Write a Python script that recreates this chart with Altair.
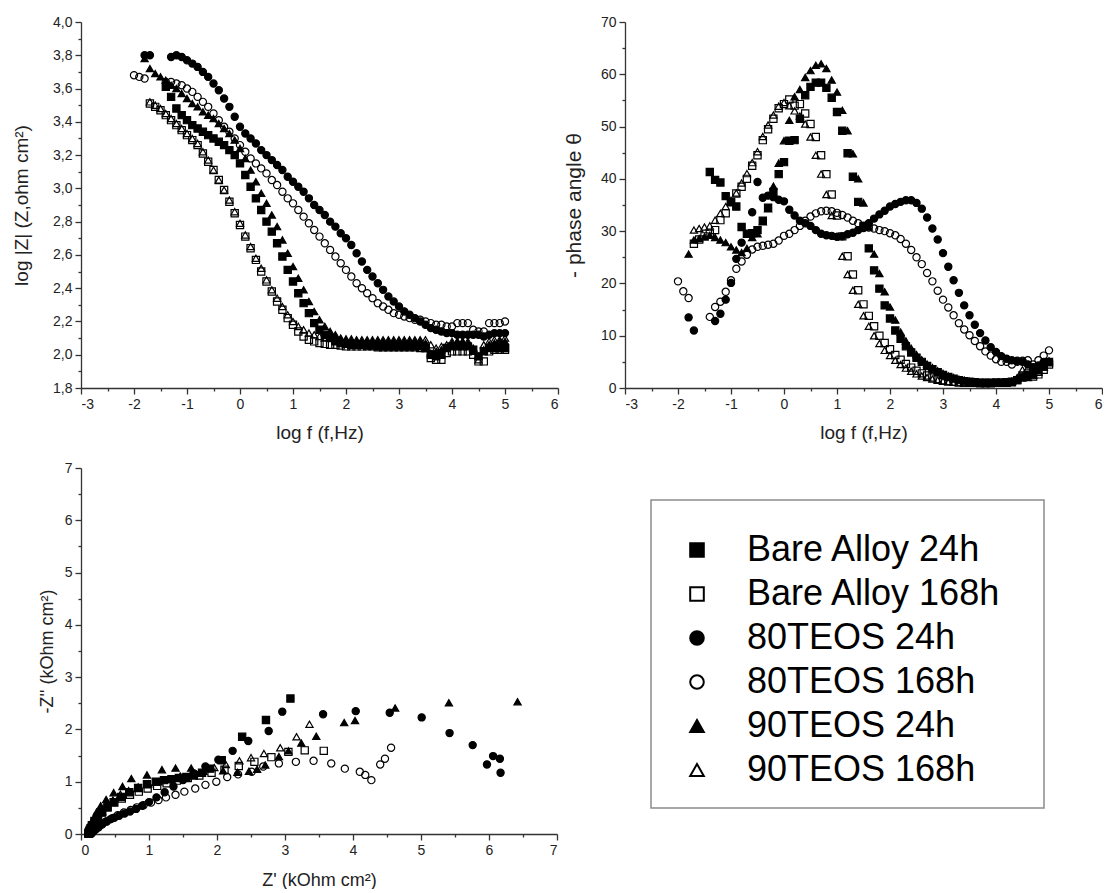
import altair as alt
import pandas as pd

N = None

SERIES = ["Bare Alloy 24h", "Bare Alloy 168h", "80TEOS 24h", "80TEOS 168h", "90TEOS 24h", "90TEOS 168h"]
SHAPES = ["square", "square", "circle", "circle", "triangle-up", "triangle-up"]
FILLS = ["black", "transparent", "black", "transparent", "black", "transparent"]
SIZES = [52, 52, 62, 62, 76, 76]

LOGF = [-2.0, -1.9, -1.8, -1.7, -1.6, -1.5, -1.4, -1.3, -1.2, -1.1,
        -1.0, -0.9, -0.8, -0.7, -0.6, -0.5, -0.4, -0.3, -0.2, -0.1,
        0.0, 0.1, 0.2, 0.3, 0.4, 0.5, 0.6, 0.7, 0.8, 0.9,
        1.0, 1.1, 1.2, 1.3, 1.4, 1.5, 1.6, 1.7, 1.8, 1.9,
        2.0, 2.1, 2.2, 2.3, 2.4, 2.5, 2.6, 2.7, 2.8, 2.9,
        3.0, 3.1, 3.2, 3.3, 3.4, 3.5, 3.6, 3.7, 3.8, 3.9,
        4.0, 4.1, 4.2, 4.3, 4.4, 4.5, 4.6, 4.7, 4.8, 4.9, 5.0]

# ---- log|Z| (Bode modulus) ----
Z_BARE24 = [N, N, N, N, N, N, 3.61, 3.55, 3.48, 3.44,
            3.41, 3.38, 3.36, 3.34, 3.32, 3.30, 3.28, 3.26, 3.23, 3.20,
            3.15, 3.08, 3.01, 2.94, 2.87, 2.80, 2.74, 2.67, 2.59, 2.51,
            2.44, 2.37, 2.31, 2.25, 2.19, 2.15, 2.12, 2.10, 2.08, 2.07,
            2.065, 2.06, 2.06, 2.06, 2.055, 2.055, 2.05, 2.05, 2.05, 2.05,
            2.05, 2.05, 2.05, 2.05, 2.05, 2.04, 2.00, 1.99, 2.00, 2.04,
            2.05, 2.05, 2.05, 2.05, 2.03, 1.99, 2.02, 2.04, 2.04, 2.04, 2.04]
Z_BARE168 = [N, N, N, 3.51, 3.49, 3.47, 3.44, 3.41, 3.38, 3.35,
             3.32, 3.29, 3.26, 3.21, 3.16, 3.11, 3.05, 2.99, 2.92, 2.85,
             2.78, 2.71, 2.64, 2.57, 2.50, 2.44, 2.38, 2.32, 2.27, 2.22,
             2.18, 2.14, 2.11, 2.09, 2.08, 2.07, 2.065, 2.06, 2.06, 2.055,
             2.05, 2.05, 2.05, 2.05, 2.05, 2.05, 2.045, 2.045, 2.045, 2.045,
             2.045, 2.045, 2.045, 2.045, 2.04, 2.04, 1.98, 1.97, 1.97, 2.01,
             2.02, 2.02, 2.02, 2.02, 2.00, 1.96, 1.96, 2.02, 2.03, 2.03, 2.03]
Z_80_24 = [N, N, 3.80, 3.80, N, N, N, 3.79, 3.80, 3.79,
           3.77, 3.75, 3.73, 3.70, 3.67, 3.63, 3.59, 3.54, 3.49, 3.43,
           3.37, 3.33, 3.30, 3.27, 3.23, 3.20, 3.17, 3.14, 3.11, 3.07,
           3.04, 3.01, 2.98, 2.94, 2.90, 2.87, 2.84, 2.80, 2.77, 2.73,
           2.70, 2.66, 2.61, 2.56, 2.51, 2.47, 2.43, 2.39, 2.35, 2.32,
           2.29, 2.26, 2.24, 2.22, 2.20, 2.18, 2.16, 2.15, 2.14, 2.13,
           2.13, 2.12, 2.12, 2.12, 2.12, 2.12, 2.11, 2.12, 2.13, 2.13, 2.13]
Z_80_168 = [3.68, 3.67, 3.66, N, N, N, 3.64, 3.64, 3.63, 3.62,
            3.60, 3.58, 3.55, 3.52, 3.49, 3.45, 3.41, 3.37, 3.34, 3.30,
            3.26, 3.22, 3.18, 3.15, 3.12, 3.09, 3.05, 3.02, 2.98, 2.94,
            2.91, 2.87, 2.83, 2.79, 2.75, 2.71, 2.67, 2.63, 2.59, 2.55,
            2.51, 2.47, 2.43, 2.40, 2.37, 2.34, 2.31, 2.29, 2.27, 2.25,
            2.24, 2.23, 2.22, 2.21, 2.21, 2.20, 2.19, 2.18, 2.18, 2.17,
            2.17, 2.19, 2.19, 2.19, 2.15, 2.14, 2.14, 2.19, 2.19, 2.19, 2.20]
Z_90_24 = [N, N, 3.78, 3.72, 3.69, 3.67, 3.65, 3.62, 3.60, 3.57,
           3.54, 3.51, 3.49, 3.46, 3.44, 3.42, 3.39, 3.36, 3.33, 3.29,
           3.24, 3.18, 3.11, 3.04, 2.97, 2.91, 2.84, 2.77, 2.69, 2.61,
           2.53, 2.46, 2.39, 2.32, 2.26, 2.21, 2.17, 2.14, 2.12, 2.10,
           2.09, 2.085, 2.08, 2.08, 2.08, 2.08, 2.08, 2.08, 2.08, 2.08,
           2.08, 2.08, 2.08, 2.08, 2.08, 2.07, 2.01, 2.02, 2.03, 2.04,
           2.07, 2.08, 2.08, 2.07, 2.04, 1.99, 2.03, 2.06, 2.07, 2.08, 2.08]
Z_90_168 = [N, N, N, 3.52, 3.50, 3.48, 3.45, 3.42, 3.39, 3.36,
            3.33, 3.30, 3.27, 3.22, 3.17, 3.11, 3.05, 2.99, 2.93, 2.86,
            2.79, 2.72, 2.65, 2.58, 2.52, 2.45, 2.39, 2.34, 2.29, 2.24,
            2.20, 2.17, 2.15, 2.13, 2.12, 2.11, 2.10, 2.10, 2.095, 2.095,
            2.095, 2.095, 2.09, 2.09, 2.09, 2.09, 2.09, 2.09, 2.09, 2.09,
            2.09, 2.09, 2.09, 2.09, 2.09, 2.09, 2.06, 2.04, 2.05, 2.06,
            2.08, 2.08, 2.08, 2.08, 2.02, 1.97, 2.06, 2.08, 2.09, 2.09, 2.10]

# ---- - phase angle (Bode phase) ----
P_BARE24 = [N, N, N, N, N, N, 41.3, 39.8, 39.3, 36.7,
            35.5, 34.7, 30.8, 29.5, 29.6, 30.2, 32.0, 34.5, 37.5, 40.9,
            43.2, 47.3, 47.4, 51.5, 56.0, 57.6, 58.4, 58.4, 57.4, 55.5,
            52.8, 49.2, 44.9, 40.4, 35.6, 31.0, 26.7, 22.5, 19.0, 15.8,
            13.3, 11.0, 9.4, 8.0, 6.8, 5.8, 5.0, 4.2, 3.6, 3.0,
            2.5, 2.1, 1.8, 1.5, 1.3, 1.2, 1.1, 1.0, 1.0, 1.0,
            1.0, 1.0, 1.1, 1.2, 1.5, 2.0, 2.5, 3.0, 3.5, 4.2, 5.0]
P_BARE168 = [N, N, N, 27.6, 28.4, 29.0, 29.5, 30.2, 32.1, 33.4,
             35.6, 37.2, 38.5, 40.0, 42.5, 44.5, 47.4, 49.5, 51.5, 53.5,
             54.3, 55.2, 54.0, 54.3, 52.5, 50.5, 48.0, 44.5, 40.9, 37.0,
             33.0, 29.0, 25.2, 21.7, 18.7, 16.0, 13.8, 11.8, 10.0, 8.6,
             7.4, 6.3, 5.4, 4.6, 3.9, 3.3, 2.8, 2.4, 2.0, 1.7,
             1.5, 1.3, 1.2, 1.1, 1.0, 1.0, 1.0, 0.9, 0.9, 0.9,
             1.0, 1.0, 1.0, 1.1, 1.5, 2.4, 2.8, 2.2, 2.6, 3.5, 4.5]
P_80_24 = [N, N, 13.5, 11.0, N, N, N, 12.8, 14.2, 16.9,
           20.1, 24.7, 27.8, N, 33.6, 39.4, 36.4, 36.8, 36.5, 36.0,
           35.7, 34.1, 33.0, 32.0, 31.5, 31.0, 30.2, 29.5, 29.2, 29.1,
           28.9, 29.0, 29.4, 29.7, 30.2, 30.6, 31.5, 32.4, 33.2, 33.9,
           34.7, 35.2, 35.6, 35.9, 35.9, 35.4, 34.3, 32.6, 30.5, 28.4,
           25.8, 23.2, 20.6, 18.2, 15.8, 13.9, 12.1, 10.5, 9.1, 7.8,
           6.9, 6.1, 5.6, 5.3, 5.2, 5.0, 4.5, 4.0, 4.3, 5.0, 5.0]
P_80_168 = [20.4, 18.5, 17.2, N, N, N, 13.6, 15.5, 16.5, 18.4,
            20.6, 22.8, 24.2, 25.5, 26.5, 27.0, 27.2, 27.4, 27.6, 28.2,
            29.1, 29.5, 30.2, 31.0, 32.0, 32.8, 33.4, 33.8, 33.9, 33.8,
            33.5, 33.1, 32.6, 32.0, 31.5, 31.0, 30.7, 30.5, 30.2, 30.0,
            29.6, 29.2, 28.5, 27.6, 26.4, 25.0, 23.7, 22.0, 20.4, 18.6,
            16.9, 15.4, 13.9, 12.4, 11.2, 10.1, 9.0, 8.0, 7.0, 6.2,
            5.5, 5.0, 5.0, 4.5, 5.0, 5.2, 5.3, 4.5, 5.3, 6.2, 7.2]
P_90_24 = [N, N, 25.6, 28.3, 28.6, 28.9, 29.2, 28.8, 28.3, 27.8,
           27.0, 26.4, 25.9, 26.7, 28.8, 29.5, 31.8, 34.3, 38.6, 43.0,
           47.3, 51.2, 55.7, 57.1, 59.4, 60.7, 61.7, 62.0, 61.1, 58.9,
           56.6, 53.1, 49.2, 44.8, 40.0, 35.4, 30.8, 25.6, 21.9, 18.4,
           15.5, 13.0, 10.7, 9.0, 7.6, 6.4, 5.4, 4.6, 3.9, 3.3,
           2.8, 2.3, 2.0, 1.7, 1.5, 1.3, 1.2, 1.1, 1.1, 1.0,
           1.0, 1.0, 1.1, 1.3, 1.8, 2.2, 2.0, 2.5, 3.3, 4.0, 4.8]
P_90_168 = [N, N, N, 30.2, 30.5, 30.8, 31.0, 32.1, 33.4, 34.7,
            35.9, 37.3, 39.2, 41.0, 43.1, 45.2, 48.1, 50.3, 52.2, 53.9,
            54.6, 54.0, 53.0, 52.0, 50.5, 48.0, 44.5, 40.9, 37.0, 33.0,
            29.0, 25.2, 21.7, 18.7, 16.0, 13.8, 11.8, 10.0, 8.5, 7.2,
            6.2, 5.3, 4.5, 3.8, 3.2, 2.7, 2.3, 2.0, 1.7, 1.5,
            1.3, 1.2, 1.1, 1.0, 1.0, 1.0, 0.9, 0.9, 0.9, 0.9,
            1.0, 1.0, 1.1, 1.3, 2.0, 3.5, 3.8, 2.5, 3.0, 4.0, 5.2]

# ---- Nyquist: Z' and -Z'' (kOhm cm2) ----
ZR_BARE24 = [3.08, 2.72, 2.37, 2.07, 1.90, 1.78, 1.66, 1.55, 1.44, 1.33, 1.22, 1.10, 0.97, 0.84,
             0.71, 0.59, 0.48, 0.39, 0.31, 0.25, 0.20, 0.17, 0.15, 0.13, 0.12, 0.115, 0.112, 0.11]
ZI_BARE24 = [2.59, 2.18, 1.86, 1.41, 1.25, 1.17, 1.12, 1.09, 1.07, 1.05, 1.03, 1.00, 0.95, 0.88,
             0.80, 0.71, 0.61, 0.51, 0.41, 0.32, 0.24, 0.17, 0.12, 0.08, 0.05, 0.03, 0.015, 0.005]
ZR_BARE168 = [3.57, 3.29, 3.05, 2.80, 2.55, 2.32, 2.11, 1.92, 1.74, 1.57, 1.41, 1.26, 1.12, 0.98,
              0.85, 0.72, 0.60, 0.49, 0.39, 0.31, 0.25, 0.20, 0.16, 0.14, 0.125, 0.115, 0.11]
ZI_BARE168 = [1.59, 1.60, 1.57, 1.47, 1.38, 1.30, 1.23, 1.17, 1.12, 1.07, 1.02, 0.97, 0.92, 0.87,
              0.81, 0.75, 0.68, 0.60, 0.51, 0.42, 0.33, 0.25, 0.17, 0.11, 0.06, 0.03, 0.01]
ZR_80_24 = [6.17, 6.16, 5.97, 6.06, 5.76, 5.42, 5.01, 4.54, 4.04, 3.56, 2.96, 2.76, 2.46, 2.23,
            2.02, 1.83, 1.66, 1.50, 1.36, 1.23, 1.11, 1.00, 0.90, 0.81, 0.72, 0.64, 0.56, 0.49,
            0.43, 0.37, 0.32, 0.27, 0.23, 0.20, 0.18, 0.16, 0.15, 0.14, 0.135]
ZI_80_24 = [1.17, 1.44, 1.33, 1.49, 1.70, 1.93, 2.23, 2.32, 2.35, 2.29, 2.34, 1.97, 1.78, 1.59,
            1.42, 1.29, 1.16, 1.03, 0.91, 0.80, 0.70, 0.61, 0.54, 0.48, 0.43, 0.39, 0.35, 0.31,
            0.28, 0.24, 0.20, 0.16, 0.12, 0.09, 0.06, 0.04, 0.025, 0.015, 0.01]
ZR_80_168 = [4.56, 4.47, 4.40, 4.27, 4.18, 4.10, 3.88, 3.68, 3.42, 3.16, 2.91, 2.68, 2.51, 2.31,
             2.15, 1.99, 1.83, 1.68, 1.52, 1.39, 1.25, 1.14, 1.03, 0.92, 0.82, 0.73, 0.63, 0.54,
             0.46, 0.38, 0.31, 0.26, 0.22, 0.19, 0.17, 0.16, 0.155]
ZI_80_168 = [1.65, 1.44, 1.33, 1.03, 1.13, 1.19, 1.25, 1.35, 1.40, 1.38, 1.35, 1.29, 1.19, 1.14,
             1.09, 1.00, 0.94, 0.87, 0.81, 0.75, 0.70, 0.65, 0.60, 0.55, 0.51, 0.46, 0.41, 0.36,
             0.30, 0.24, 0.18, 0.13, 0.09, 0.06, 0.04, 0.02, 0.01]
ZR_90_24 = [6.42, 5.41, 4.62, 4.03, 3.87, 3.46, 3.24, 3.05, 2.91, 2.71, 2.59, 2.47, 2.30, 2.09,
            1.85, 1.62, 1.39, 1.19, 0.97, 0.74, 0.61, 0.48, 0.37, 0.29, 0.23, 0.19, 0.16, 0.14,
            0.13, 0.12]
ZI_90_24 = [2.53, 2.51, 2.41, 2.17, 2.13, 1.87, 1.74, 1.59, 1.48, 1.32, 1.24, 1.20, 1.18, 1.21,
            1.25, 1.26, 1.26, 1.23, 1.13, 1.06, 0.91, 0.79, 0.66, 0.54, 0.42, 0.31, 0.21, 0.13,
            0.07, 0.03]
ZR_90_168 = [3.36, 3.17, 2.93, 2.69, 2.50, 2.33, 2.13, 1.96, 1.80, 1.63, 1.46, 1.29, 1.14, 0.99,
             0.84, 0.70, 0.58, 0.47, 0.38, 0.31, 0.25, 0.20, 0.17, 0.15, 0.135, 0.125, 0.12]
ZI_90_168 = [2.10, 1.86, 1.65, 1.54, 1.46, 1.40, 1.33, 1.27, 1.20, 1.16, 1.11, 1.04, 1.00, 0.96,
             0.90, 0.83, 0.76, 0.65, 0.54, 0.43, 0.33, 0.24, 0.16, 0.10, 0.06, 0.03, 0.01]

Z_ALL = [Z_BARE24, Z_BARE168, Z_80_24, Z_80_168, Z_90_24, Z_90_168]
P_ALL = [P_BARE24, P_BARE168, P_80_24, P_80_168, P_90_24, P_90_168]
ZR_ALL = [ZR_BARE24, ZR_BARE168, ZR_80_24, ZR_80_168, ZR_90_24, ZR_90_168]
ZI_ALL = [ZI_BARE24, ZI_BARE168, ZI_80_24, ZI_80_168, ZI_90_24, ZI_90_168]


def bode_frame(lists, col):
    rows = []
    for s, vals in zip(SERIES, lists):
        for f, v in zip(LOGF, vals):
            if v is not None:
                rows.append({"series": s, "logf": f, col: v})
    return pd.DataFrame(rows)


def nyq_frame():
    rows = []
    for s, xs, ys in zip(SERIES, ZR_ALL, ZI_ALL):
        for a, b in zip(xs, ys):
            rows.append({"series": s, "zr": a, "zi": b})
    return pd.DataFrame(rows)


df_z = bode_frame(Z_ALL, "absz")
df_p = bode_frame(P_ALL, "phase")
df_n = nyq_frame()

shape_scale = alt.Scale(domain=SERIES, range=SHAPES)
fill_scale = alt.Scale(domain=SERIES, range=FILLS)
size_scale = alt.Scale(domain=SERIES, range=SIZES)

FONT = "Liberation Sans"
INT_LABEL = "datum.value + ''"
COMMA_LABEL = "replace(format(datum.value, '.1f'), '.', ',')"


def panel(df, xcol, ycol, xdom, ydom, xmaj, xmin, ymaj, ymin, ylabel_expr,
          xtitle, ytitle, xt_size, yt_size, xt_pad, yt_pad, w, h):
    base = alt.Chart(df)
    xs = alt.Scale(domain=xdom, nice=False, zero=False)
    ys = alt.Scale(domain=ydom, nice=False, zero=False)
    pts = base.mark_point(filled=True, stroke="black", strokeWidth=1.2, opacity=1).encode(
        x=alt.X(f"{xcol}:Q", scale=xs,
                axis=alt.Axis(values=xmaj, orient="bottom", tickSize=6, labelExpr=INT_LABEL,
                              title=xtitle, titleFontSize=xt_size, titlePadding=xt_pad)),
        y=alt.Y(f"{ycol}:Q", scale=ys,
                axis=alt.Axis(values=ymaj, orient="left", tickSize=6, labelExpr=ylabel_expr,
                              title=ytitle, titleFontSize=yt_size, titlePadding=yt_pad)),
        shape=alt.Shape("series:N", scale=shape_scale, legend=None),
        fill=alt.Fill("series:N", scale=fill_scale, legend=None),
        size=alt.Size("series:N", scale=size_scale, legend=None),
    )
    minor = base.mark_point(opacity=0).encode(
        x=alt.X(f"{xcol}:Q", scale=xs,
                axis=alt.Axis(values=xmin, orient="bottom", tickSize=3, labels=False,
                              domain=False, title=None)),
        y=alt.Y(f"{ycol}:Q", scale=ys,
                axis=alt.Axis(values=ymin, orient="left", tickSize=3, labels=False,
                              domain=False, title=None)),
    )
    return alt.layer(pts, minor).resolve_axis(x="independent", y="independent").properties(
        width=w, height=h)


X_MAJ = [-3, -2, -1, 0, 1, 2, 3, 4, 5, 6]
X_MIN = [-2.5, -1.5, -0.5, 0.5, 1.5, 2.5, 3.5, 4.5, 5.5]
Z_MAJ = [1.8, 2.0, 2.2, 2.4, 2.6, 2.8, 3.0, 3.2, 3.4, 3.6, 3.8, 4.0]
Z_MIN = [1.9, 2.1, 2.3, 2.5, 2.7, 2.9, 3.1, 3.3, 3.5, 3.7, 3.9]
P_MAJ = [0, 10, 20, 30, 40, 50, 60, 70]
P_MIN = [5, 15, 25, 35, 45, 55, 65]
N_MAJ = [0, 1, 2, 3, 4, 5, 6, 7]
N_MIN = [0.5, 1.5, 2.5, 3.5, 4.5, 5.5, 6.5]

p1 = panel(df_z, "logf", "absz", [-3, 6], [1.8, 4.0], X_MAJ, X_MIN, Z_MAJ, Z_MIN, COMMA_LABEL,
           "log f (f,Hz)", "log |Z| (Z,ohm cm²)", 19, 19, 12, 21, 477, 366)
p2 = panel(df_p, "logf", "phase", [-3, 6], [0, 70], X_MAJ, X_MIN, P_MAJ, P_MIN, INT_LABEL,
           "log f (f,Hz)", "- phase angle θ", 19, 21, 12, 16, 477, 366)
p3 = panel(df_n, "zr", "zi", [0, 7], [0, 7], N_MAJ, N_MIN, N_MAJ, N_MIN, INT_LABEL,
           "Z' (kOhm cm²)", "-Z'' (kOhm cm²)", 18, 18, 14, 8, 476, 366)

# ---- legend panel (drawn from the series list through the shared shape/fill scales) ----
legend_df = pd.DataFrame({"series": SERIES})
row_y = alt.Y("series:N", sort=SERIES, axis=None,
              scale=alt.Scale(type="point", domain=SERIES, range=[82, 302], padding=0))

frame = alt.Chart(pd.DataFrame({"box": [0]})).mark_rect(
    fill="transparent", stroke="#8c8c8c", strokeWidth=1.5
).encode(x=alt.value(26), x2=alt.value(419), y=alt.value(32), y2=alt.value(340))

leg_sym = alt.Chart(legend_df).mark_point(
    filled=True, stroke="black", strokeWidth=2, size=185, opacity=1
).encode(
    x=alt.value(72), y=row_y,
    shape=alt.Shape("series:N", scale=shape_scale, legend=None),
    fill=alt.Fill("series:N", scale=fill_scale, legend=None),
)
leg_txt = alt.Chart(legend_df).mark_text(
    align="left", baseline="middle", fontSize=36, font=FONT, color="black"
).encode(x=alt.value(122), y=row_y, text="series:N")

legend_cell = alt.layer(frame, leg_sym, leg_txt).properties(width=477, height=366)

chart = alt.concat(
    p1, p2, p3, legend_cell, columns=2, spacing={"row": 80, "column": 67}, bounds="flush"
).properties(
    padding={"left": 4, "top": 7, "right": 0, "bottom": 0}
).configure(font=FONT, background="white").configure_view(stroke=None).configure_axis(
    domainColor="#333333", domainWidth=1.3, tickColor="#333333", tickWidth=1.3,
    labelColor="#222222", labelFont=FONT, labelFontSize=14, labelPadding=3,
    titleFont=FONT, titleFontWeight="normal", titleColor="#222222", grid=False
)

chart.save("out.html", embed_options={"renderer": "svg", "actions": False})
